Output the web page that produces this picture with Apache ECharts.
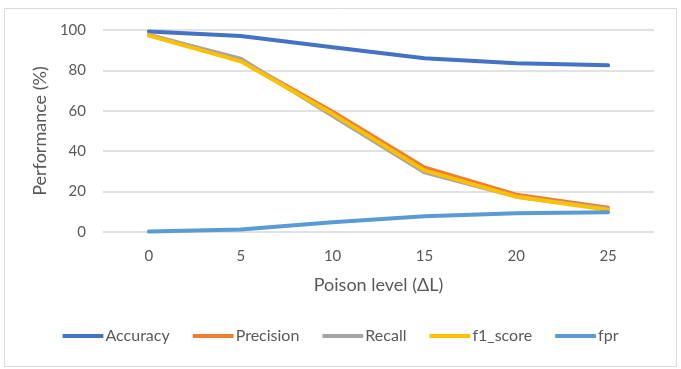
<!DOCTYPE html>
<html>
<head>
<meta charset="utf-8">
<script src="https://cdn.jsdelivr.net/npm/echarts@6/dist/echarts.min.js"></script>
<style>
  html, body { margin: 0; padding: 0; background: #fff; }
  #main { width: 681px; height: 369px; }
</style>
</head>
<body>
<div id="main"></div>
<script>
// poison levels (x axis)
var levels = ['0', '5', '10', '15', '20', '25']
// performance in %
var accuracy = [99.3, 97, 91.5, 86, 83.5, 82.5]
var precision = [97.5, 85, 59.5, 32, 18.5, 12]
var recall = [97.5, 85.8, 57.5, 29.5, 17.5, 11.5]
var f1Score = [97.2, 84.5, 58.5, 30.5, 17.5, 11]
var fpr = [0.3, 1.2, 4.8, 7.8, 9.3, 9.8]

var seriesNames = ['Accuracy', 'Precision', 'Recall', 'f1_score', 'fpr']
var seriesData = [accuracy, precision, recall, f1Score, fpr]
var colors = ['#4472C4', '#ED7D31', '#A5A5A5', '#FFC000', '#5B9BD5']

var font = 'Lato, "Open Sans", sans-serif'
var myChart = echarts.init(document.getElementById('main'))

myChart.setOption({
    animation: false,
    color: colors,
    textStyle: { fontFamily: font },
    graphic: [{
        type: 'rect',
        shape: { x: 4.5, y: 8.5, width: 672, height: 358 },
        style: { fill: 'none', stroke: '#d9d9d9', lineWidth: 1 },
        silent: true
    }],
    grid: { left: 103, right: 27, top: 30, bottom: 137 },
    legend: {
        bottom: 20,
        left: 'center',
        data: seriesNames,
        icon: 'roundRect',
        itemWidth: 41,
        itemHeight: 4,
        itemGap: 23,
        textStyle: { color: '#595959', fontSize: 16, fontFamily: font, padding: [0, 0, 0, -3] }
    },
    xAxis: {
        type: 'category',
        data: levels,
        boundaryGap: true,
        name: 'Poison level (ΔL)',
        nameLocation: 'middle',
        nameGap: 44,
        nameTextStyle: { color: '#595959', fontSize: 18, fontFamily: font },
        axisLine: { show: false },
        axisTick: { show: false },
        axisLabel: { color: '#595959', fontSize: 15, margin: 17, fontFamily: font }
    },
    yAxis: {
        type: 'value',
        min: 0,
        max: 100,
        interval: 20,
        name: 'Performance (%)',
        nameLocation: 'middle',
        nameGap: 52,
        nameTextStyle: { color: '#595959', fontSize: 18, fontFamily: font },
        axisLine: { show: false },
        axisTick: { show: false },
        axisLabel: { color: '#595959', fontSize: 15, margin: 17, fontFamily: font },
        splitLine: { lineStyle: { color: '#d9d9d9', width: 1.5 } }
    },
    series: seriesNames.map(function (name, i) {
        return {
            name: name,
            type: 'line',
            data: seriesData[i],
            symbol: 'none',
            lineStyle: { width: 4, cap: 'round', join: 'round' }
        }
    })
})
</script>
</body>
</html>
